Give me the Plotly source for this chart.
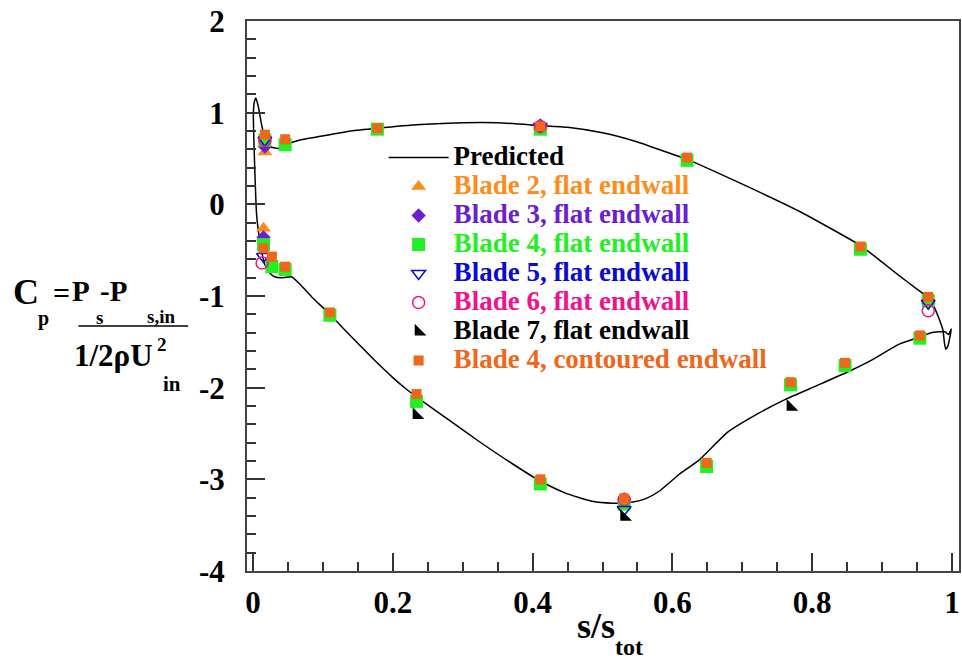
import plotly.graph_objects as go

FONT = "Liberation Serif"

# ---------------- data ----------------
# predicted Cp distribution (one closed loop: pressure side TE->LE, then suction side LE->TE)
pred_x = [0.999, 0.997, 0.994, 0.991, 0.989, 0.987, 0.982, 0.975, 0.966, 0.949, 0.923, 0.900,
          0.869, 0.780, 0.700, 0.621, 0.580, 0.550, 0.500, 0.450, 0.410, 0.350, 0.300, 0.240,
          0.178, 0.140, 0.110, 0.080, 0.0575, 0.048, 0.036, 0.024, 0.017, 0.012, 0.0075, 0.004,
          0.002, 0.0005, 0.0015, 0.003, 0.005, 0.0075, 0.012, 0.017, 0.024, 0.031, 0.043, 0.055,
          0.067, 0.084, 0.110, 0.130, 0.153, 0.175, 0.200, 0.220, 0.243, 0.276, 0.324, 0.371,
          0.409, 0.447, 0.485, 0.514, 0.542, 0.562, 0.581, 0.609, 0.638, 0.680, 0.723, 0.761,
          0.809, 0.856, 0.885, 0.923, 0.949, 0.970, 0.990, 0.995, 0.999]
pred_cp = [-1.36, -1.45, -1.55, -1.58, -1.50, -1.37, -1.26, -1.13, -1.02, -0.92, -0.77, -0.63,
           -0.45, -0.07, 0.22, 0.49, 0.60, 0.68, 0.78, 0.84, 0.86, 0.89, 0.89, 0.87,
           0.83, 0.80, 0.76, 0.72, 0.68, 0.65, 0.61, 0.63, 0.72, 0.88, 1.07, 1.16,
           1.12, 0.99, 0.63, 0.27, -0.10, -0.28, -0.50, -0.66, -0.75, -0.79, -0.80, -0.79,
           -0.87, -1.01, -1.20, -1.36, -1.54, -1.71, -1.89, -2.02, -2.15, -2.33, -2.59, -2.83,
           -3.01, -3.15, -3.24, -3.26, -3.25, -3.21, -3.13, -2.95, -2.79, -2.48, -2.28, -2.13,
           -1.97, -1.81, -1.70, -1.53, -1.46, -1.40, -1.39, -1.42, -1.36]

b2_x = [0.017, 0.015, 0.411, 0.531, 0.966]
b2_cp = [0.57, -0.26, 0.85, -3.22, -1.05]

b3_x = [0.017, 0.015, 0.411, 0.531, 0.966]
b3_cp = [0.63, -0.36, 0.86, -3.22, -1.05]

b4_x = [0.017, 0.046, 0.178, 0.411, 0.621, 0.869, 0.966,
        0.015, 0.027, 0.046, 0.110, 0.234, 0.411, 0.531, 0.649, 0.769, 0.847, 0.954]
b4_cp = [0.70, 0.65, 0.82, 0.82, 0.48, -0.49, -1.05,
         -0.44, -0.68, -0.71, -1.21, -2.15, -3.05, -3.27, -2.86, -1.97, -1.76, -1.46]

b5_x = [0.017, 0.015, 0.411, 0.531, 0.966]
b5_cp = [0.70, -0.57, 0.85, -3.33, -1.08]

b6_x = [0.017, 0.013, 0.411, 0.531, 0.966]
b6_cp = [0.70, -0.64, 0.85, -3.22, -1.16]

b7_x = [0.234, 0.531, 0.769]
b7_cp = [-2.30, -3.41, -2.21]

b4c_x = [0.017, 0.046, 0.178, 0.411, 0.621, 0.869, 0.966,
         0.015, 0.027, 0.046, 0.110, 0.234, 0.411, 0.531, 0.649, 0.769, 0.847, 0.954]
b4c_cp = [0.76, 0.71, 0.83, 0.85, 0.51, -0.46, -1.01,
          -0.48, -0.57, -0.68, -1.18, -2.07, -3.00, -3.21, -2.82, -1.94, -1.73, -1.43]

series_names = ["Predicted", "Blade 2, flat endwall", "Blade 3, flat endwall",
                "Blade 4, flat endwall", "Blade 5, flat endwall", "Blade 6, flat endwall",
                "Blade 7, flat endwall", "Blade 4, contoured endwall"]

x_tickvals = [0, 0.2, 0.4, 0.6, 0.8, 1]
x_ticktext = ["0", "0.2", "0.4", "0.6", "0.8", "1"]
y_tickvals = [-4, -3, -2, -1, 0, 1, 2]
y_ticktext = ["-4", "-3", "-2", "-1", "0", "1", "2"]

# ---------------- styling ----------------
C_ORANGE = "#ff8c1a"
C_PURPLE = "#6c1fd0"
C_GREEN = "#22f022"
C_BLUE = "#0a0ad0"
C_PINK = "#f0148c"
C_BLACK = "#000000"
C_ORED = "#f0661a"


def lname(text, color):
    return "<span style='font-size:27px;color:%s'>%s</span>" % (color, text)


fig = go.Figure()
fig.add_trace(go.Scatter(x=pred_x, y=pred_cp, mode="lines",
                         line=dict(color="black", width=1.5, shape="spline", smoothing=0.5),
                         name=lname(series_names[0], C_BLACK)))
fig.add_trace(go.Scatter(x=b2_x, y=b2_cp, mode="markers",
                         marker=dict(symbol="triangle-up", size=13, color=C_ORANGE, line=dict(width=0)),
                         name=lname(series_names[1], C_ORANGE)))
fig.add_trace(go.Scatter(x=b3_x, y=b3_cp, mode="markers",
                         marker=dict(symbol="diamond", size=11, color=C_PURPLE, line=dict(width=0)),
                         name=lname(series_names[2], C_PURPLE)))
fig.add_trace(go.Scatter(x=b4_x, y=b4_cp, mode="markers",
                         marker=dict(symbol="square", size=13, color=C_GREEN, line=dict(width=0)),
                         name=lname(series_names[3], C_GREEN)))
fig.add_trace(go.Scatter(x=b5_x, y=b5_cp, mode="markers",
                         marker=dict(symbol="triangle-down-open", size=12, color=C_BLUE,
                                     line=dict(width=1.5, color=C_BLUE)),
                         name=lname(series_names[4], C_BLUE)))
fig.add_trace(go.Scatter(x=b6_x, y=b6_cp, mode="markers",
                         marker=dict(symbol="circle-open", size=12, color=C_PINK,
                                     line=dict(width=1.5, color=C_PINK)),
                         name=lname(series_names[5], C_PINK)))
fig.add_trace(go.Scatter(x=b7_x, y=b7_cp, mode="markers",
                         marker=dict(symbol="triangle-sw", size=13, color=C_BLACK, line=dict(width=0)),
                         name=lname(series_names[6], C_BLACK)))
fig.add_trace(go.Scatter(x=b4c_x, y=b4c_cp, mode="markers",
                         marker=dict(symbol="square", size=10, color=C_ORED, line=dict(width=0)),
                         name=lname(series_names[7], C_ORED)))

L, R, T, B = 247, 1, 21, 90
W, H = 962, 661
PW, PH = W - L - R, H - T - B


def px2x(px):
    return (px - L) / PW


def py2y(py):
    return (H - B - py) / PH


axis_common = dict(
    ticks="inside", ticklen=18, tickwidth=1.5, tickcolor="#333",
    showline=True, linecolor="#444", linewidth=2, mirror=True,
    showgrid=False, zeroline=False,
    tickfont=dict(family=FONT, size=31, color="black", weight="bold"),
    tickmode="array",
)

fig.update_xaxes(range=[-0.0086, 1.01], tickvals=x_tickvals, ticktext=x_ticktext,
                 minor=dict(tickmode="linear", tick0=0, dtick=0.05, ticks="inside", ticklen=9,
                            tickwidth=1.5, tickcolor="#333"),
                 ticklabelstandoff=3, **axis_common)
fig.update_yaxes(range=[-4, 2], tickvals=y_tickvals, ticktext=y_ticktext,
                 minor=dict(tickmode="linear", tick0=0, dtick=0.2, ticks="inside", ticklen=9,
                            tickwidth=1.5, tickcolor="#333"),
                 ticklabelstandoff=14, **axis_common)

annots = []


def add_text(text, px, py, size):
    annots.append(dict(text=text, x=px2x(px), y=py2y(py), xref="paper", yref="paper",
                       xanchor="center", yanchor="middle", showarrow=False,
                       font=dict(family=FONT, size=size, color="black", weight="bold")))


# y-axis title: Cp = (Ps - Ps,in) / (1/2 rho U^2 in)
add_text("C", 25, 292, 36)
add_text("p", 43, 318, 20)
add_text("=", 61, 292, 30)
add_text("P", 81, 291, 29)
add_text("s", 99, 317, 19)
add_text("-P", 113, 291, 29)
add_text("s,in", 161, 316, 19)
add_text("1/2ρU", 113, 355, 31)
add_text("2", 162, 344, 19)
add_text("in", 172, 384, 21)
# x-axis title
add_text("s/s", 597, 626, 36)
add_text("tot", 630, 647, 24)

fig.update_layout(
    width=W, height=H,
    margin=dict(l=L, r=R, t=T, b=B),
    plot_bgcolor="white", paper_bgcolor="white",
    showlegend=True,
    legend=dict(x=px2x(384), xanchor="left", y=py2y(138), yanchor="top",
                font=dict(family=FONT, size=20, color="black", weight="bold"),
                itemwidth=60, tracegroupgap=0, bgcolor="rgba(0,0,0,0)", borderwidth=0),
    annotations=annots,
    shapes=[dict(type="line", xref="paper", yref="paper",
                 x0=px2x(78), x1=px2x(188), y0=py2y(326), y1=py2y(326),
                 line=dict(color="black", width=1.5))],
)

fig.write_html("out.html")
